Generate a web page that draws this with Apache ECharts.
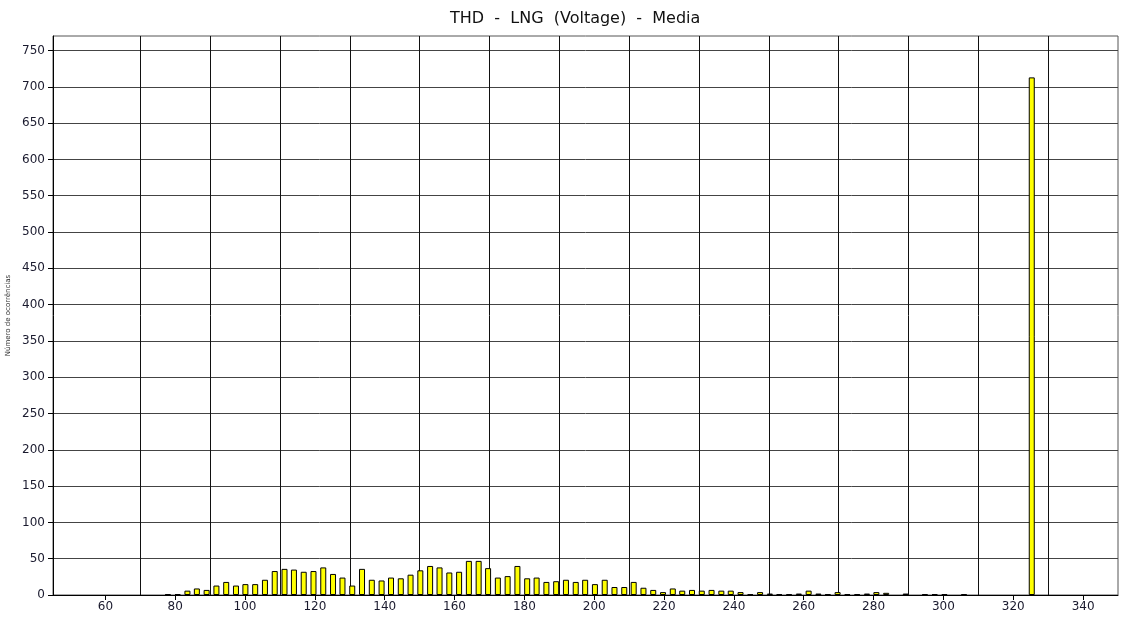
<!DOCTYPE html>
<html>
<head>
<meta charset="utf-8">
<script src="https://cdn.jsdelivr.net/npm/echarts@6/dist/echarts.min.js"></script>
<style>
html,body{margin:0;padding:0;background:#fff;}
#chart{width:1134px;height:620px;}
</style>
</head>
<body>
<div id="chart"></div>
<script>
// Bin centers (Voltage THD histogram)
const binCenters = [
  77.9, 80.7, 83.5, 86.2, 89.0, 91.8, 94.6, 97.4, 100.1, 102.9,
  105.7, 108.5, 111.3, 114.0, 116.8, 119.6, 122.4, 125.2, 127.9, 130.7,
  133.5, 136.3, 139.1, 141.8, 144.6, 147.4, 150.2, 153.0, 155.7, 158.5,
  161.3, 164.1, 166.9, 169.6, 172.4, 175.2, 178.0, 180.8, 183.5, 186.3,
  189.1, 191.9, 194.7, 197.4, 200.2, 203.0, 205.8, 208.6, 211.3, 214.1,
  216.9, 219.7, 222.5, 225.2, 228.0, 230.8, 233.6, 236.4, 239.1, 241.9,
  244.7, 247.5, 250.3, 253.0, 255.8, 258.6, 261.4, 264.2, 266.9, 269.7,
  272.5, 275.3, 278.1, 280.8, 283.6, 286.4, 289.2, 292.0, 294.7, 297.5,
  300.3, 303.1, 305.9, 308.6, 311.4, 314.2, 317.0, 319.8, 322.5, 325.3
];
// Occurrence counts per bin
const counts = [
  1, 1, 6, 9, 7, 13, 18, 13, 15, 15,
  21, 33, 36, 35, 32, 33, 38, 29, 24, 13,
  36, 21, 20, 24, 23, 28, 34, 40, 38, 31,
  32, 47, 47, 37, 24, 26, 40, 23, 24, 18,
  19, 21, 18, 21, 15, 21, 11, 11, 18, 10,
  7, 4, 9, 6, 7, 6, 7, 6, 6, 4,
  1, 4, 2, 1, 1, 2, 6, 2, 1, 4,
  1, 1, 2, 4, 3, 0, 2, 0, 1, 1,
  1, 0, 1, 0, 0, 0, 0, 0, 0, 713
];
const xTickLabels = [60, 80, 100, 120, 140, 160, 180, 200, 220, 240, 260, 280, 300, 320, 340];
const xGridValues = [70, 90, 110, 130, 150, 170, 190, 210, 230, 250, 270, 290, 310, 330];
const yTickLabels = [0, 50, 100, 150, 200, 250, 300, 350, 400, 450, 500, 550, 600, 650, 700, 750];

const titleText = 'THD  -  LNG  (Voltage)  -  Media';
const yName = 'Número de ocorrências';

const chart = echarts.init(document.getElementById('chart'), null, {renderer: 'canvas'});
const font = 'DejaVu Sans';
chart.setOption({
  animation: false,
  backgroundColor: '#ffffff',
  title: {
    text: titleText,
    left: 445,
    top: 6,
    textStyle: {fontFamily: font, fontSize: 16, fontWeight: 'normal', color: '#111'}
  },
  grid: {
    left: 53, right: 16, top: 36, bottom: 25,
    outerBoundsMode: 'none',
    containLabel: false,
    show: true, borderColor: '#555', borderWidth: 1
  },
  xAxis: {
    type: 'value',
    min: 45, max: 350,
    axisLine: {show: true, onZero: false, lineStyle: {color: '#000', width: 1}},
    axisTick: {show: true, length: 5, customValues: xTickLabels, lineStyle: {color: '#000'}},
    axisLabel: {customValues: xTickLabels, fontFamily: font, fontSize: 12, color: '#1a1a2e', margin: 6},
    splitLine: {show: false}
  },
  yAxis: {
    type: 'value',
    min: 0, max: 770, interval: 50,
    name: yName,
    nameLocation: 'middle',
    nameRotate: 90,
    nameGap: 38,
    nameTextStyle: {fontFamily: font, fontSize: 7, color: '#333'},
    axisLine: {show: true, lineStyle: {color: '#000', width: 1}},
    axisTick: {show: true, length: 5, customValues: yTickLabels, lineStyle: {color: '#000'}},
    axisLabel: {customValues: yTickLabels, fontFamily: font, fontSize: 12, color: '#1a1a2e', margin: 8},
    splitLine: {show: true, lineStyle: {color: '#444', width: 1}}
  },
  series: [{
    type: 'bar',
    data: binCenters.map((x, i) => [x, counts[i] === 0 ? '-' : counts[i]]),
    barWidth: 6,
    itemStyle: {color: '#ffff00', borderColor: '#000', borderWidth: 1},
    z: 3,
    markLine: {
      silent: true,
      symbol: ['none', 'none'],
      label: {show: false},
      lineStyle: {color: '#111', type: 'solid', width: 1},
      data: xGridValues.map(v => ({xAxis: v})),
      z: 1
    }
  }]
});
</script>
</body>
</html>
